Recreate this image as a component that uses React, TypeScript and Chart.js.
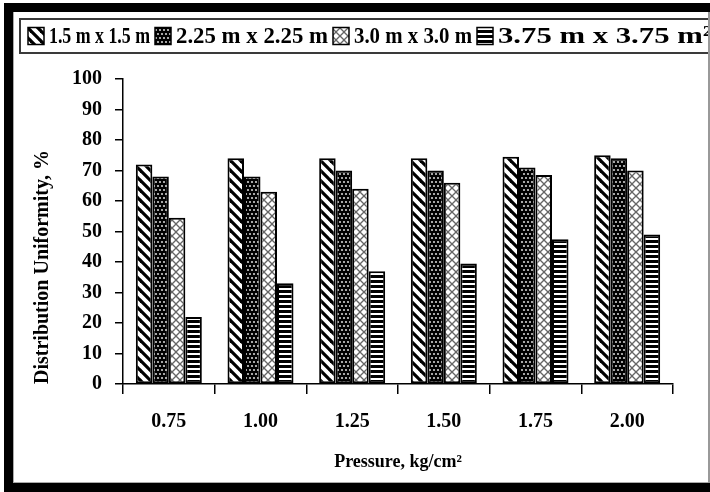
import React, { useEffect, useRef } from "react";
import { Chart, registerables } from "chart.js";

Chart.register(...registerables);

const categories = ["0.75", "1.00", "1.25", "1.50", "1.75", "2.00"];
const seriesLabels = ["1.5 m x 1.5 m", "2.25 m x 2.25 m", "3.0 m x 3.0 m", "3.75 m x 3.75 m²"];
const spacing15 = [72, 74, 74, 74, 74.5, 75];
const spacing225 = [68, 68, 70, 70, 71, 74];
const spacing30 = [54.5, 63, 64, 66, 68.5, 70];
const spacing375 = [22, 33, 37, 39.5, 47.5, 49];
const yMin = 0;
const yMax = 100;
const yStep = 10;

const FONT = '"Liberation Serif", "Times New Roman", serif';

function makeTile(w: number, h: number, draw: (c: CanvasRenderingContext2D) => void): CanvasPattern {
  const cv = document.createElement("canvas");
  cv.width = w;
  cv.height = h;
  const c = cv.getContext("2d")!;
  draw(c);
  return document.createElement("canvas").getContext("2d")!.createPattern(cv, "repeat")!;
}

function diagPattern() {
  return makeTile(10, 10, (c) => {
    c.fillStyle = "#fff";
    c.fillRect(0, 0, 10, 10);
    c.strokeStyle = "#000";
    c.lineWidth = 3.2;
    for (let k = -1; k <= 1; k++) {
      c.beginPath();
      c.moveTo(k * 10 - 1, -1);
      c.lineTo(k * 10 + 11, 11);
      c.stroke();
    }
  });
}

function dotPattern() {
  return makeTile(8, 8, (c) => {
    c.fillStyle = "#000";
    c.fillRect(0, 0, 8, 8);
    c.fillStyle = "#cfcfcf";
    const pts = [
      [2, 2],
      [6, 2],
      [0, 6],
      [4, 6],
      [8, 6],
    ];
    pts.forEach(([x, y]) => {
      c.beginPath();
      c.arc(x, y, 1.1, 0, Math.PI * 2);
      c.fill();
    });
  });
}

function crossPattern() {
  return makeTile(8, 8, (c) => {
    c.fillStyle = "#fff";
    c.fillRect(0, 0, 8, 8);
    c.strokeStyle = "#666";
    c.lineWidth = 1.3;
    for (let k = -1; k <= 1; k++) {
      c.beginPath();
      c.moveTo(k * 8, 0);
      c.lineTo(k * 8 + 8, 8);
      c.stroke();
      c.beginPath();
      c.moveTo(k * 8 + 8, 0);
      c.lineTo(k * 8, 8);
      c.stroke();
    }
  });
}

function hStripePattern() {
  return makeTile(4, 5, (c) => {
    c.fillStyle = "#fff";
    c.fillRect(0, 0, 4, 5);
    c.fillStyle = "#000";
    c.fillRect(0, 0, 4, 3);
  });
}

// Legend drawn inside a framed box; each entry fitted to its slot.
const boxLegend = {
  id: "boxLegend",
  afterDraw(chart: any, _args: any, opts: any) {
    const ctx: CanvasRenderingContext2D = chart.ctx;
    ctx.save();
    ctx.strokeStyle = "#3a3a3a";
    ctx.lineWidth = 2;
    ctx.strokeRect(opts.left, opts.top, opts.right - opts.left, opts.bottom - opts.top);
    ctx.font = `bold ${opts.fontSize}px ${FONT}`;
    ctx.textBaseline = "middle";
    const cy = (opts.top + opts.bottom) / 2;
    const slots: number[] = opts.slots;
    chart.data.datasets.forEach((ds: any, i: number) => {
      const x = slots[i];
      ctx.fillStyle = ds.backgroundColor;
      ctx.fillRect(x, cy - 8.5, 16, 17);
      ctx.strokeStyle = "#000";
      ctx.lineWidth = 1.5;
      ctx.strokeRect(x, cy - 8.5, 16, 17);
      const tx = x + 21;
      const end = i + 1 < slots.length ? slots[i + 1] - 5 : opts.lastEnd;
      const natural = ctx.measureText(ds.label).width;
      const sx = (end - tx) / natural;
      ctx.save();
      ctx.translate(tx, cy + 1);
      ctx.scale(sx, 1);
      ctx.fillStyle = "#000";
      ctx.fillText(ds.label, 0, 0);
      ctx.restore();
    });
    ctx.restore();
  },
};

export default function App() {
  const canvasRef = useRef<HTMLCanvasElement | null>(null);

  useEffect(() => {
    const canvas = canvasRef.current!;
    const patterns = [diagPattern(), dotPattern(), crossPattern(), hStripePattern()];
    const values = [spacing15, spacing225, spacing30, spacing375];
    const chart = new Chart(canvas, {
      type: "bar",
      data: {
        labels: categories,
        datasets: seriesLabels.map((label, i) => ({
          label,
          data: values[i],
          backgroundColor: patterns[i] as any,
          borderColor: "#000",
          borderWidth: 2,
          borderSkipped: false,
          categoryPercentage: 0.72,
          barPercentage: 1.0,
        })),
      },
      options: {
        animation: false,
        responsive: true,
        maintainAspectRatio: false,
        layout: { padding: { left: 0, right: 37, top: 79, bottom: 0 } },
        plugins: {
          legend: { display: false },
          tooltip: { enabled: false },
          boxLegend: {
            left: 20,
            right: 730,
            top: 19,
            bottom: 53,
            fontSize: 24,
            slots: [28, 155, 333, 477],
            lastEnd: 712,
          },
        } as any,
        scales: {
          x: {
            offset: true,
            grid: { offset: true, drawOnChartArea: false, drawTicks: true, tickLength: 10, color: "#000", lineWidth: 1.5 },
            border: { display: true, color: "#000", width: 1.5 },
            ticks: { color: "#000", padding: 16, font: { family: FONT, size: 20, weight: "bold" } },
            title: {
              display: true,
              text: "Pressure, kg/cm²",
              color: "#000",
              padding: { top: 0, bottom: 19 },
              font: { family: FONT, size: 18, weight: "bold" },
            },
            afterFit: (s: any) => {
              s.height = 108;
            },
          },
          y: {
            min: yMin,
            max: yMax,
            ticks: { stepSize: yStep, color: "#000", padding: 13, font: { family: FONT, size: 20, weight: "bold" } },
            grid: { drawOnChartArea: false, drawTicks: true, tickLength: 8, color: "#000", lineWidth: 1.5 },
            border: { display: true, color: "#000", width: 1.5 },
            title: {
              display: true,
              text: "Distribution Uniformity, %",
              align: "start",
              color: "#000",
              padding: { top: 31, bottom: 0 },
              font: { family: FONT, size: 20, weight: "bold" },
            },
            afterFit: (s: any) => {
              s.width = 123;
            },
          },
        } as any,
      },
      plugins: [boxLegend],
    });
    return () => chart.destroy();
  }, []);

  const band: React.CSSProperties = { position: "absolute", background: "#000", pointerEvents: "none" };

  return (
    <div style={{ position: "fixed", left: 0, top: 0, width: 710, height: 492, background: "#fff", overflow: "hidden" }}>
      <div style={{ position: "absolute", left: 0, top: 0, width: 710, height: 492 }}>
        <canvas ref={canvasRef} />
      </div>
      <div style={{ ...band, left: 0, top: 0, width: 710, height: 3, background: "#fff" }} />
      <div style={{ ...band, left: 4, top: 3, width: 706, height: 9 }} />
      <div style={{ ...band, left: 4, top: 3, width: 9, height: 489 }} />
      <div style={{ ...band, left: 4, top: 483, width: 706, height: 9 }} />
      <div style={{ ...band, left: 13, top: 12, width: 1, height: 471, background: "#aaa" }} />
      <div style={{ ...band, left: 13, top: 482, width: 697, height: 1, background: "#aaa" }} />
      <div style={{ ...band, left: 708, top: 12, width: 2, height: 471, background: "#999" }} />
    </div>
  );
}
